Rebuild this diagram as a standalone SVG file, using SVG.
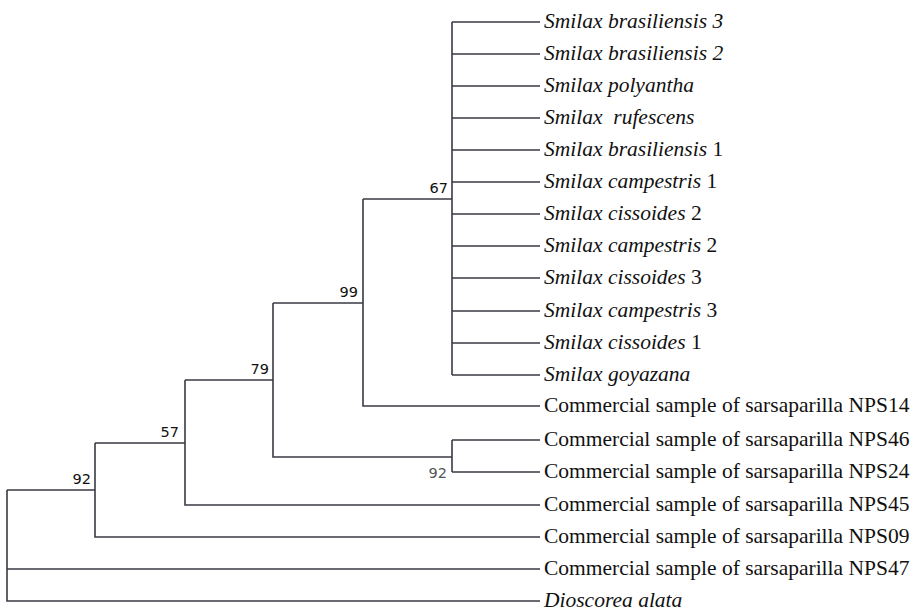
<svg xmlns="http://www.w3.org/2000/svg" width="918" height="612" viewBox="0 0 918 612">
<style>
.br{stroke:#3a3a44;stroke-width:1.6;fill:none}
.tx{font-family:"Liberation Serif","Times New Roman",serif;font-size:21.5px;fill:#111;white-space:pre}
.it{font-style:italic}
.bs{font-family:"DejaVu Sans","Verdana",sans-serif;font-size:14.5px;fill:#111}
</style>
<rect width="918" height="612" fill="#fff"/>
<g id="connectors">
<path class="br" d="M452,22V375"/>
<path class="br" d="M452,22H540M452,54H540M452,86H540M452,118H540M452,150H540M452,182H540M452,214H540M452,246H540M452,278H540M452,311H540M452,343H540M452,375H540"/>
<path class="br" d="M363,199H452M363,199V406H540"/>
<path class="br" d="M273,303H363M273,303V457H452"/>
<path class="br" d="M452,440V472M452,440H540M452,472H540"/>
<path class="br" d="M185,380H273M185,380V505H540"/>
<path class="br" d="M95,443H185M95,443V537H540"/>
<path class="br" d="M7,490H95M7,490V601H540M7,569H540"/>
</g>
<g id="bootstrap">
<text class="bs" x="448" y="193" text-anchor="end">67</text>
<text class="bs" x="358" y="297" text-anchor="end">99</text>
<text class="bs" x="269" y="374" text-anchor="end">79</text>
<text class="bs" x="179" y="437" text-anchor="end">57</text>
<text class="bs" x="91" y="484" text-anchor="end">92</text>
<text class="bs" x="447" y="478" text-anchor="end" style="fill:#555">92</text>
</g>
<g id="leaf-sb3"><text class="tx it" x="544" y="28">Smilax brasiliensis 3</text></g>
<g id="leaf-sb2"><text class="tx it" x="544" y="60">Smilax brasiliensis 2</text></g>
<g id="leaf-sp"><text class="tx it" x="544" y="92">Smilax polyantha</text></g>
<g id="leaf-sr"><text class="tx it" x="544" y="124">Smilax  rufescens</text></g>
<g id="leaf-sb1"><text class="tx" x="544" y="156"><tspan class="it">Smilax brasiliensis</tspan> 1</text></g>
<g id="leaf-sc1"><text class="tx" x="544" y="188"><tspan class="it">Smilax campestris</tspan> 1</text></g>
<g id="leaf-sci2"><text class="tx" x="544" y="220"><tspan class="it">Smilax cissoides</tspan> 2</text></g>
<g id="leaf-sc2"><text class="tx" x="544" y="252"><tspan class="it">Smilax campestris</tspan> 2</text></g>
<g id="leaf-sci3"><text class="tx" x="544" y="284"><tspan class="it">Smilax cissoides</tspan> 3</text></g>
<g id="leaf-sc3"><text class="tx" x="544" y="317"><tspan class="it">Smilax campestris</tspan> 3</text></g>
<g id="leaf-sci1"><text class="tx" x="544" y="349"><tspan class="it">Smilax cissoides</tspan> 1</text></g>
<g id="leaf-sg"><text class="tx it" x="544" y="381">Smilax goyazana</text></g>
<g id="leaf-nps14"><text class="tx" x="544" y="412">Commercial sample of sarsaparilla NPS14</text></g>
<g id="leaf-nps46"><text class="tx" x="544" y="446">Commercial sample of sarsaparilla NPS46</text></g>
<g id="leaf-nps24"><text class="tx" x="544" y="478">Commercial sample of sarsaparilla NPS24</text></g>
<g id="leaf-nps45"><text class="tx" x="544" y="511">Commercial sample of sarsaparilla NPS45</text></g>
<g id="leaf-nps09"><text class="tx" x="544" y="543">Commercial sample of sarsaparilla NPS09</text></g>
<g id="leaf-nps47"><text class="tx" x="544" y="575">Commercial sample of sarsaparilla NPS47</text></g>
<g id="leaf-da"><text class="tx it" x="544" y="607">Dioscorea alata</text></g>
</svg>
